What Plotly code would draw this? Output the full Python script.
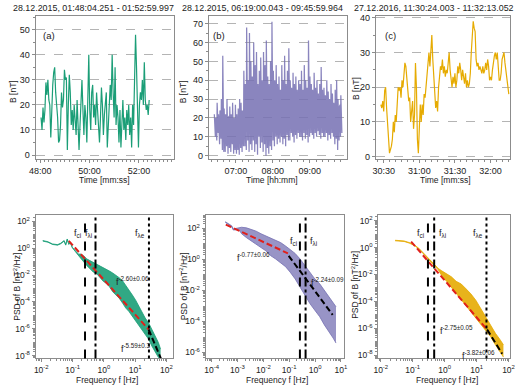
import math
import pandas as pd
import plotly.graph_objects as go

W, H = 520, 387
FONT = "Liberation Sans, Arial, Helvetica, sans-serif"
GREEN, PURPLE, ORANGE, RED = "#1b9e77", "#7570b3", "#e6ab02", "#e0201b"
FRAME, GRID, TXT = "#8c8c8c", "#b4b4b4", "#222222"

# ---------------- data ----------------
titles = ["28.12.2015, 01:48:04.251 - 01:52:59.997",
          "28.12.2015, 06:19:00.043 - 09:45:59.964",
          "27.12.2016, 11:30:24.003 - 11:32:13.052"]
panel_tags = ["(a)", "(b)", "(c)"]
time_titles = ["Time [mm:ss]", "Time [hh:mm]", "Time [mm:ss]"]

# (a) |B| time series, nT
a_start, a_end = "2015-12-28 01:48:02", "2015-12-28 01:52:25"
a_values = [15, 10, 19, 13, 18, 29, 24, 30, 22, 20, 7, 22, 28, 33, 35, 25, 20, 15, 5, 6,
            12, 25, 19, 22, 34, 30, 31, 2, 20, 32, 25, 12, 18, 10, 20, 15, 8, 22, 10, 2,
            12, 25, 30, 18, 8, 20, 15, 5, 22, 40, 18, 10, 25, 28, 15, 20, 12, 25, 18, 12,
            5, 15, 27, 20, 8, 16, 22, 25, 3, 12, 20, 28, 22, 40, 25, 15, 35, 12, 20, 15,
            5, 18, 3, 12, 22, 10, 15, 6, 18, 12, 20, 8, 15, 3, 20, 12, 25, 48, 35, 15,
            3, 20, 25, 22, 30, 20, 37, 22, 18, 20, 16, 22]

# (b) |B| time series: extreme and typical upper / lower values of the fluctuations, nT
b_start, b_end = "2015-12-28 06:25:00", "2015-12-28 09:52:00"
b_hi = [22, 20, 28, 22, 24, 30, 53, 25, 22, 30, 20, 26, 22, 28, 20, 27, 22, 25, 30, 28,
        24, 45, 38, 68, 40, 65, 50, 42, 60, 48, 55, 38, 45, 52, 40, 55, 48, 61, 42, 38,
        50, 71, 45, 40, 48, 38, 42, 35, 48, 40, 53, 38, 45, 57, 40, 36, 44, 38, 42, 35,
        40, 38, 45, 35, 48, 40, 36, 61, 42, 38, 35, 44, 36, 40, 33, 38, 47, 35, 36, 32,
        40, 34, 30, 38, 33, 28, 35, 40, 30, 26, 32]
b_lo = [10, 8, 12, 6, 9, 3, 2, 2, 5, 1, 4, 2, 6, 1, 3, 1, 3, 0.5, 4, 2,
        5, 5, 3, 8, 2, 6, 3, 8, 2, 6, 0.5, 10, 4, 7, 2, 6, 0, 4, 1, 5,
        3, 8, 5, 10, 6, 9, 7, 10, 6, 9, 5, 11, 8, 8, 12, 10, 7, 11, 9, 12,
        10, 10, 8, 12, 9, 11, 7, 10, 12, 11, 9, 12, 10, 13, 11, 9, 12, 10, 10, 12,
        8, 11, 9, 12, 10, 6, 9, 3, 8, 10, 12]
b_core_hi = [18, 20, 17, 21, 19, 18, 22, 17, 20, 18, 21, 19, 17, 22, 18, 20, 19, 21, 23, 20,
             22, 30, 26, 35, 28, 32, 27, 34, 30, 29, 33, 26, 31, 28, 35, 30, 27, 33, 29, 31,
             28, 30, 27, 32, 28, 31, 26, 29, 33, 27, 30, 28, 32, 27, 30, 29, 26, 31, 28, 30,
             27, 29, 32, 28, 30, 27, 31, 29, 26, 30, 28, 27, 31, 28, 29, 26, 30, 28, 27, 29,
             25, 28, 26, 29, 27, 25, 28, 26, 24, 27, 26]
b_core_lo = [12, 10, 14, 9, 11, 7, 8, 6, 9, 5, 8, 6, 9, 5, 7, 6, 8, 5, 9, 7,
             8, 9, 7, 12, 6, 10, 8, 11, 6, 9, 5, 10, 7, 12, 8, 6, 10, 7, 9, 11,
             8, 13, 11, 15, 12, 14, 10, 13, 15, 12, 14, 13, 16, 12, 14, 11, 15, 13, 12, 16,
             14, 13, 15, 12, 14, 16, 13, 15, 12, 14, 13, 15, 12, 14, 13, 16, 12, 15, 13, 14,
             12, 14, 13, 15, 12, 11, 14, 13, 10, 12, 14]

# (c) |B| time series, nT
c_start, c_end = "2016-12-27 11:30:27.5", "2016-12-27 11:32:15.4"
c_values = [15, 14, 16, 13, 19, 20, 14, 10, 3, 1, 2, 3, 5, 10, 7, 12, 10, 18, 20, 19,
            20, 17, 22, 20, 23, 27, 26, 22, 20, 16, 17, 10, 13, 16, 8, 12, 27, 20, 5, 1,
            8, 15, 10, 15, 12, 18, 17, 20, 22, 25, 30, 26, 33, 35, 28, 22, 17, 14, 16, 13,
            20, 24, 26, 25, 28, 24, 26, 23, 25, 24, 28, 30, 25, 22, 20, 23, 21, 24, 20, 22,
            26, 24, 27, 25, 22, 25, 23, 21, 24, 20, 22, 20, 21, 24, 30, 34, 39, 37, 36, 28,
            26, 27, 25, 26, 25, 24, 26, 24, 25, 27, 25, 28, 26, 22, 23, 22, 25, 28, 29, 30,
            28, 30, 27, 22, 22, 24, 28, 29, 30, 27, 25, 22, 20, 18]

# PSD spectra: log10 f [Hz], upper / lower log10 PSD [nT^2/Hz]
d_logf = [-1.95, -1.79, -1.64, -1.48, -1.38, -1.27, -1.22, -1.17, -1.12, -1.07,
          -1.01, -0.96, -0.91, -0.86, -0.81, -0.75, -0.65, -0.55, -0.44, -0.34,
          -0.23, -0.13, -0.03, 0.08, 0.18, 0.28, 0.39, 0.49, 0.60, 0.70,
          0.80, 0.91, 1.01, 1.12, 1.22, 1.32, 1.43, 1.53, 1.63, 1.74, 1.81]
d_hi = [0.56, 0.48, 0.31, 0.26, 0.36, 0.56, 0.26, 0.68, 0.31, 0.43,
        0.07, -0.05, -0.22, -0.37, -0.45, -0.44, -0.56, -0.80, -0.93, -1.05,
        -1.17, -1.29, -1.41, -1.54, -1.71, -1.85, -2.02, -2.20, -2.44, -2.76,
        -3.12, -3.49, -3.85, -4.34, -4.71, -5.20, -5.56, -6.05, -6.54, -7.02, -7.51]
d_lo = [0.52, 0.44, 0.27, 0.22, 0.32, 0.52, 0.22, 0.64, 0.27, 0.39,
        0.03, -0.09, -0.26, -0.41, -0.55, -0.80, -1.05, -1.29, -1.54, -1.78,
        -1.90, -2.15, -2.44, -2.63, -2.88, -3.24, -3.49, -3.73, -4.10, -4.46,
        -4.71, -5.07, -5.44, -5.76, -6.05, -6.41, -6.78, -7.27, -7.71, -8.12, -8.24]

e_logf = [-3.47, -3.35, -3.22, -3.16, -3.03, -2.91, -2.84, -2.65, -2.47, -2.28,
          -2.09, -1.90, -1.71, -1.52, -1.33, -1.14, -0.96, -0.77, -0.58, -0.39,
          -0.20, -0.01, 0.18, 0.36, 0.55, 0.70, 0.81]
e_hi = [2.44, 2.32, 2.17, 1.97, 2.02, 2.06, 2.08, 2.04, 1.94, 1.83,
        1.66, 1.51, 1.41, 1.24, 1.09, 0.87, 0.66, 0.39, 0.03, -0.40,
        -0.82, -1.25, -1.57, -1.99, -2.42, -2.73, -3.05]
e_lo = [2.40, 2.28, 2.10, 1.90, 1.92, 1.85, 1.66, 1.41, 1.19, 0.98,
        0.77, 0.56, 0.24, 0.03, -0.19, -0.46, -0.82, -1.25, -1.78, -2.31,
        -2.84, -3.27, -3.69, -4.22, -4.65, -5.07, -5.39]

f_logf = [-1.55, -1.42, -1.27, -1.11, -0.96, -0.81, -0.65, -0.50, -0.35, -0.20,
          -0.09, 0.06, 0.21, 0.36, 0.52, 0.67, 0.82, 0.98, 1.13, 1.28,
          1.44, 1.59, 1.74, 1.84]
f_hi = [0.55, 0.55, 0.50, 0.38, 0.21, -0.04, -0.43, -0.85, -1.20, -1.55,
        -1.73, -1.97, -2.17, -2.51, -2.71, -3.07, -3.44, -3.93, -4.54, -5.16,
        -5.77, -6.38, -6.87, -7.24]
f_lo = [0.51, 0.51, 0.46, 0.34, 0.17, -0.08, -0.47, -0.89, -1.28, -1.65,
        -2.09, -2.51, -2.95, -3.39, -3.88, -4.30, -4.79, -5.21, -5.65, -6.14,
        -6.63, -7.24, -7.73, -8.15]

# power-law fits: endpoints (log10 f, log10 PSD), colour, exponent label
d_fits = [([-1.12, 1.43], [0.54, -6.05], RED, "-2.60±0.06"),
          ([1.43, 1.82], [-6.05, -8.20], "black", "-5.59±0.3")]
e_fits = [([-3.45, -1.05], [2.25, 0.40], RED, "-0.77±0.06"),
          ([-1.02, 0.68], [0.24, -3.57], "black", "-2.24±0.09")]
f_fits = [([-1.05, 1.33], [0.45, -6.10], RED, "-2.75±0.05"),
          ([1.33, 1.80], [-6.10, -7.90], "black", "-3.82±0.06")]
fit_label_pos = {4: [(0.32, -2.45), (0.47, -7.45)],
                 5: [(-3.09, 0.13), (-0.23, -1.45)],
                 6: [(-0.22, -6.12), (0.49, -8.02)]}

# characteristic frequencies [Hz]
d_freqs = {"ci": 0.25, "λi": 0.54, "λe": 27.5}
e_freqs = {"ci": 0.26, "λi": 0.43}
f_freqs = {"ci": 0.30, "λi": 0.47, "λe": 20.4}

d_xexp, e_xexp, f_xexp = [-2, -1, 0, 1, 2], [-4, -3, -2, -1, 0, 1], [-2, -1, 0, 1, 2]
d_yexp, e_yexp, f_yexp = [2, 0, -2, -4, -6, -8], [2, 0, -2, -4, -6], [2, 0, -2, -4, -6, -8]

# ---------------- figure ----------------
def px(x): return x / W
def py(y): return 1 - y / H

def axn(i, k):
    return k if i == 1 else f"{k}{i}"

fig = go.Figure()

ta = pd.date_range(a_start, a_end, periods=len(a_values))
fig.add_trace(go.Scatter(x=ta, y=a_values, mode="lines",
                         line=dict(color=GREEN, width=1.2), xaxis="x", yaxis="y"))
b_series = [v for quad in zip(b_hi, b_core_lo, b_core_hi, b_lo) for v in quad]
tb = pd.date_range(b_start, b_end, periods=len(b_series))
fig.add_trace(go.Scatter(x=tb, y=b_series, mode="lines",
                         line=dict(color="rgba(117,112,179,0.85)", width=1.25),
                         xaxis="x2", yaxis="y2"))
tc = pd.date_range(c_start, c_end, periods=len(c_values))
fig.add_trace(go.Scatter(x=tc, y=c_values, mode="lines",
                         line=dict(color=ORANGE, width=1.2), xaxis="x3", yaxis="y3"))

def add_band(i, logf, hi, lo, color, fill):
    fr = [10 ** v for v in logf]
    fig.add_trace(go.Scatter(x=fr, y=[10 ** v for v in lo], mode="lines",
                             line=dict(color=color, width=0.8),
                             xaxis=f"x{i}", yaxis=f"y{i}"))
    fig.add_trace(go.Scatter(x=fr, y=[10 ** v for v in hi], mode="lines",
                             line=dict(color=color, width=0.8), fill="tonexty",
                             fillcolor=fill, xaxis=f"x{i}", yaxis=f"y{i}"))

add_band(4, d_logf, d_hi, d_lo, GREEN, "rgba(27,158,119,0.9)")
add_band(5, e_logf, e_hi, e_lo, PURPLE, "rgba(117,112,179,0.75)")
add_band(6, f_logf, f_hi, f_lo, ORANGE, "rgba(230,171,2,0.9)")

annotations = []
for i, fits in ((4, d_fits), (5, e_fits), (6, f_fits)):
    for k, (lf, lp, col, lab) in enumerate(fits):
        fig.add_trace(go.Scatter(x=[10 ** v for v in lf], y=[10 ** v for v in lp],
                                 mode="lines", line=dict(color=col, width=2, dash="6px,3px"),
                                 xaxis=f"x{i}", yaxis=f"y{i}"))
        lx, ly = fit_label_pos[i][k]
        annotations.append(dict(x=lx, y=ly, xref=f"x{i}", yref=f"y{i}",
                                text=f"f<sup>{lab}</sup>", showarrow=False,
                                xanchor="left", yanchor="middle",
                                font=dict(size=9, color=TXT, family=FONT)))

shapes = []
styles = {"ci": "dash", "λi": "dashdot", "λe": "dot"}
label_side = {4: {"ci": "right", "λi": "right", "λe": "right"},
              5: {"ci": "right", "λi": "left"},
              6: {"ci": "right", "λi": "left", "λe": "right"}}
label_y = {4: 1.07, 5: 1.15, 6: 1.09}
for i, freqs in ((4, d_freqs), (5, e_freqs), (6, f_freqs)):
    for key, fval in freqs.items():
        shapes.append(dict(type="line", xref=f"x{i}", yref=f"y{i} domain",
                           x0=fval, x1=fval, y0=0, y1=1,
                           line=dict(color="black", width=2, dash=styles[key])))
        side = label_side[i][key]
        off = -0.05 if side == "right" else 0.08
        annotations.append(dict(x=math.log10(fval) + off, y=label_y[i], xref=f"x{i}", yref=f"y{i}",
                                text=f"f<sub>{key}</sub>", showarrow=False,
                                xanchor=side, yanchor="middle",
                                font=dict(size=9, color=TXT, family=FONT)))

# ---------------- axes ----------------
tickfont = dict(size=9, color=TXT, family=FONT)
def base(**kw):
    d = dict(showline=True, linecolor=FRAME, linewidth=1, mirror=True,
             ticks="outside", ticklen=3, tickcolor=FRAME, tickwidth=1,
             tickfont=tickfont, showgrid=False, zeroline=False)
    d.update(kw)
    return d

x_doms = [(29.3, 171), (206.7, 347.7), (377.5, 515), (29.3, 170), (203.3, 345), (380, 515)]
top_dom = [py(158.5), py(13.5)]
bot_dom = [py(361), py(215.5)]

time_axes = [
    dict(range=["2015-12-28 01:47:48.8", "2015-12-28 01:53:25.5"], tickformat="%M:%S",
         dtick=120000, tick0="2015-12-28 01:48:00",
         minor=dict(dtick=10000, tick0="2015-12-28 01:48:00", ticks="outside", ticklen=2, tickcolor=FRAME)),
    dict(range=["2015-12-28 06:16:15", "2015-12-28 09:59:46"], tickformat="%H:%M",
         dtick=3600000, tick0="2015-12-28 07:00:00",
         minor=dict(dtick=600000, tick0="2015-12-28 07:00:00", ticks="outside", ticklen=2, tickcolor=FRAME)),
    dict(range=["2016-12-27 11:30:23.25", "2016-12-27 11:32:16.5"], tickformat="%M:%S",
         dtick=30000, tick0="2016-12-27 11:30:30",
         minor=dict(dtick=5000, tick0="2016-12-27 11:30:30", ticks="outside", ticklen=2, tickcolor=FRAME)),
]
y_ranges_top = [[-1.6, 55.4], [-1.8, 73.9], [-0.7, 40.43]]

layout = {}
for i in range(1, 4):
    layout[f"xaxis{i}"] = base(type="date", domain=[px(x_doms[i-1][0]), px(x_doms[i-1][1])],
                               anchor=axn(i, "y"), **time_axes[i-1])
    layout[f"yaxis{i}"] = base(domain=top_dom, anchor=axn(i, "x"), range=y_ranges_top[i-1],
                               dtick=10, showgrid=True, gridcolor=GRID, griddash="dash", gridwidth=1,
                               minor=dict(dtick=5, ticks="outside", ticklen=2, tickcolor=FRAME))

def minor_vals(lo, hi):
    return [m * 10 ** e for e in range(math.floor(lo), math.ceil(hi) + 1) for m in range(1, 10)]

log_specs = {4: ([-2.18, 2.21], [-8.2, 2.45], d_xexp, d_yexp),
             5: ([-4.23, 1.12], [-6.38, 2.86], e_xexp, e_yexp),
             6: ([-2.08, 2.05], [-8.25, 2.42], f_xexp, f_yexp)}
for i, (xr, yr, xe, ye) in log_specs.items():
    layout[f"xaxis{i}"] = base(type="log", domain=[px(x_doms[i-1][0]), px(x_doms[i-1][1])],
                               anchor=f"y{i}", range=xr, tickmode="array",
                               tickvals=[10 ** e for e in xe],
                               ticktext=[f"10<sup>{e}</sup>" for e in xe],
                               tickfont=dict(size=8.5, color=TXT, family=FONT),
                               minor=dict(tickmode="array", tickvals=minor_vals(xr[0], xr[1]),
                                          ticks="outside", ticklen=2, tickcolor=FRAME))
    layout[f"yaxis{i}"] = base(type="log", domain=bot_dom, anchor=f"x{i}", range=yr,
                               tickmode="array", tickvals=[10 ** e for e in ye],
                               ticktext=[f"10<sup>{e}</sup>" for e in ye],
                               tickfont=dict(size=8.5, color=TXT, family=FONT),
                               minor=dict(tickmode="array", tickvals=minor_vals(yr[0], yr[1]),
                                          ticks="outside", ticklen=2, tickcolor=FRAME))

# ---------------- text ----------------
def ptext(x, y, text, size=9, angle=0, xanchor="center"):
    annotations.append(dict(x=px(x), y=py(y), xref="paper", yref="paper", text=text,
                            showarrow=False, xanchor=xanchor, yanchor="middle",
                            textangle=angle, font=dict(size=size, color=TXT, family=FONT)))

for t, cx in zip(titles, [89, 262, 437]):
    ptext(cx, 5.5, t, size=8.9)
for tag, lx in zip(panel_tags, [35, 209, 385]):
    ptext(lx, 33, tag, size=9.5, xanchor="left")
for t, cx in zip(time_titles, [100, 271, 449]):
    ptext(cx, 180, t, size=8.5)
for cx in [102, 276, 450]:
    ptext(cx, 382.5, "Frequency f [Hz]", size=8.5)
for cx, cy in [(5.5, 90), (179.7, 90), (356.5, 87)]:
    ptext(cx, cy, "B [nT]", size=8.5, angle=-90)
for cx, cy in [(10.5, 288), (181, 288), (356.5, 286)]:
    ptext(cx, cy, "PSD of B [nT<sup>2</sup>/Hz]", size=8.5, angle=-90)

fig.update_layout(width=W, height=H, margin=dict(l=0, r=0, t=0, b=0),
                  paper_bgcolor="white", plot_bgcolor="white", showlegend=False,
                  font=dict(family=FONT, color=TXT), annotations=annotations,
                  shapes=shapes, **layout)
fig.write_html("out.html", config={"displayModeBar": False},
               post_script="document.body.style.margin='0';document.body.style.overflow='hidden';")
